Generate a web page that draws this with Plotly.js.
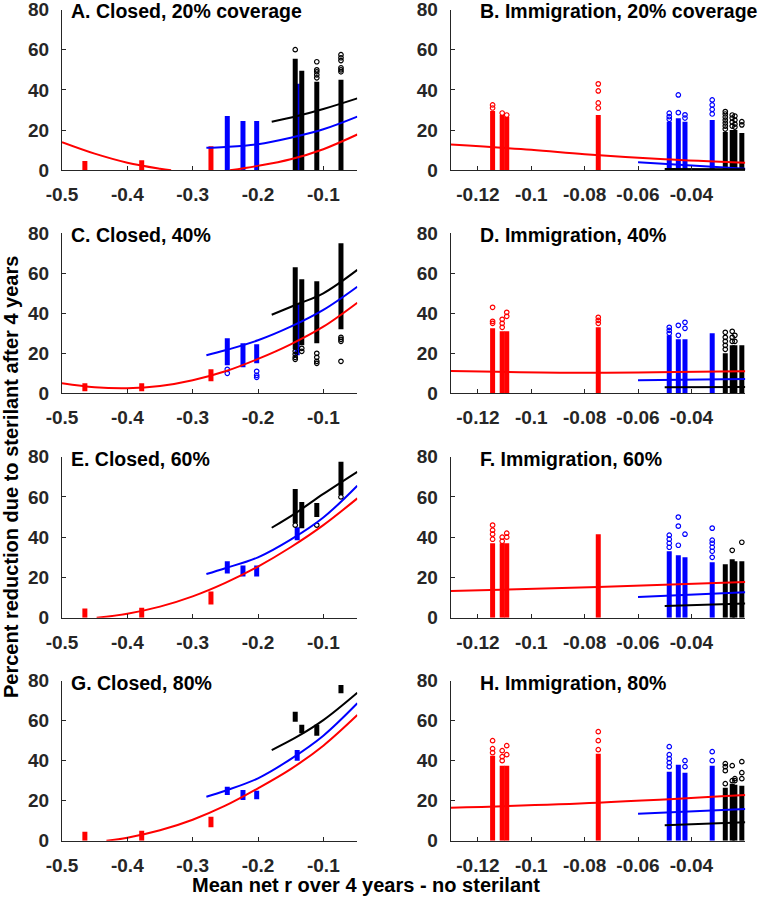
<!DOCTYPE html>
<html><head><meta charset="utf-8">
<script src="https://cdn.plot.ly/plotly-3.0.1.min.js"></script>
<style>html,body{margin:0;padding:0;background:#fff}</style>
</head><body><div id="chart" style="width:764px;height:897px"></div>
<script>
// ---------- tick labels / ranges ----------
const closedTickVals = [-0.5, -0.4, -0.3, -0.2, -0.1];
const closedTickText = ['-0.5', '-0.4', '-0.3', '-0.2', '-0.1'];
const immTickVals = [-0.12, -0.1, -0.08, -0.06, -0.04];
const immTickText = ['-0.12', '-0.1', '-0.08', '-0.06', '-0.04'];
const yTickVals = [0, 20, 40, 60, 80];
const yTickText = ['0', '20', '40', '60', '80'];
const closedRange = [-0.5, -0.048];
const immRange = [-0.1302, -0.0198];
const yRange = [0, 80];

const panelTitles = ['A. Closed, 20% coverage', 'B. Immigration, 20% coverage',
  'C. Closed, 40%', 'D. Immigration, 40%', 'E. Closed, 60%', 'F. Immigration, 60%',
  'G. Closed, 80%', 'H. Immigration, 80%'];
const yTitle = 'Percent reduction due to sterilant after 4 years';
const xTitle = 'Mean net r over 4 years - no sterilant';

// ---------- column x positions (mean net r) ----------
const closedRedX = [-0.465, -0.378, -0.272];
const closedBlueX = [-0.247, -0.223, -0.202, -0.140];
const closedBlackX = [-0.143, -0.133, -0.110, -0.073];
const immRedX = [-0.1145, -0.1109, -0.1092, -0.0749];
const immBlueX = [-0.0483, -0.0449, -0.0424, -0.0322];
const immBlackX = [-0.0273, -0.0247, -0.0237, -0.0211];
const immLo = [0, 0, 0, 0];

// ---------- Panel A ----------
const aRedLo = [0, 0, 0], aRedHi = [4.6, 5, 12], aRedOut = [[], [], []];
const aBlueLo = [0, 0, 0, 0], aBlueHi = [27, 24.5, 24.5, 43], aBlueOut = [[], [], [], []];
const aBlackLo = [0, 0, 0, 0], aBlackHi = [55.5, 49.5, 44, 45];
const aBlackOut = [[60], [], [46, 47.5, 49, 50, 54], [49, 50, 51, 54.6, 56, 57.5]];
const aRedFitX = [-0.5, -0.45, -0.4, -0.35, -0.333, null, -0.243, -0.2, -0.15, -0.1, -0.048];
const aRedFitY = [14, 8.3, 3.8, 0.8, 0, null, 0, 2.2, 5.5, 10.5, 17.8];
const aBlueFitX = [-0.279, -0.25, -0.2, -0.15, -0.1, -0.048];
const aBlueFitY = [11.2, 11.6, 13, 16.2, 20.4, 26.7];
const aBlackFitX = [-0.179, -0.14, -0.1, -0.048];
const aBlackFitY = [24.2, 27, 30.5, 35.8];

// ---------- Panel C ----------
const cRedLo = [1, 1, 6], cRedHi = [5, 5, 12], cRedOut = [[], [], []];
const cBlueLo = [14, 13, 15, 19], cBlueHi = [27.5, 25, 24.5, 45], cBlueOut = [[12, 10], [], [11, 9, 8], []];
const cBlackLo = [22, 24, 25, 32], cBlackHi = [63, 57, 56, 75];
const cBlackOut = [[17, 18, 19.5, 21], [21, 22.5], [15, 16, 18, 20], [16, 26, 27, 28]];
const cRedFitX = [-0.5, -0.45, -0.4, -0.35, -0.3, -0.25, -0.2, -0.15, -0.1, -0.048];
const cRedFitY = [5, 3, 2.5, 3.6, 6.5, 11, 17.2, 24.5, 33.3, 45.3];
const cBlueFitX = [-0.279, -0.25, -0.2, -0.15, -0.1, -0.048];
const cBlueFitY = [19, 21.5, 26.5, 33.3, 41.7, 53.3];
const cBlackFitX = [-0.179, -0.14, -0.1, -0.048];
const cBlackFitY = [39.3, 44.5, 50, 61.7];

// ---------- Panel E ----------
const eRedLo = [0, 0, 6.5], eRedHi = [4.6, 5, 13], eRedOut = [[], [], []];
const eBlueLo = [22, 20.5, 20.5, 38.5], eBlueHi = [28, 26, 26, 45], eBlueOut = [[], [], [], []];
const eBlackLo = [47, 44.5, 50, 61], eBlackHi = [64, 57.5, 57, 77.5];
const eBlackOut = [[46], [], [46], [60]];
const eRedFitX = [-0.447, -0.4, -0.35, -0.3, -0.25, -0.2, -0.15, -0.1, -0.048];
const eRedFitY = [0, 2, 5.5, 10.6, 17.3, 25.4, 35, 46, 59.3];
const eBlueFitX = [-0.279, -0.25, -0.2, -0.15, -0.1, -0.048];
const eBlueFitY = [21.7, 24.6, 30, 38.8, 49.8, 65.6];
const eBlackFitX = [-0.179, -0.14, -0.1, -0.048];
const eBlackFitY = [44.7, 52.5, 61.5, 72.5];

// ---------- Panel G ----------
const gRedLo = [0, 0, 6.7], gRedHi = [4.5, 5, 12], gRedOut = [[], [], []];
const gBlueLo = [22.8, 20.3, 20.7, 40], gBlueHi = [27, 25.3, 25, 45.3], gBlueOut = [[], [], [], []];
const gBlackLo = [59.5, 53.7, 52.5, 73.7], gBlackHi = [64.5, 58, 58, 77.8];
const gBlackOut = [[], [], [], []];
const gRedFitX = [-0.432, -0.4, -0.35, -0.3, -0.25, -0.2, -0.15, -0.1, -0.048];
const gRedFitY = [0, 1.5, 5.2, 10.5, 17.5, 26.2, 35.8, 47.5, 62.8];
const gBlueFitX = [-0.279, -0.25, -0.2, -0.15, -0.1, -0.048];
const gBlueFitY = [22, 25, 31.2, 40.8, 52.5, 68.7];
const gBlackFitX = [-0.179, -0.14, -0.1, -0.048];
const gBlackFitY = [45.3, 52, 60.3, 74];

// ---------- Panel B ----------
const bRedHi = [29.5, 27.5, 26.5, 27.5];
const bRedOut = [[31, 32.5], [28.5], [27.5], [31, 33.5, 39.5, 43]];
const bBlueHi = [24.2, 25.9, 24.2, 25];
const bBlueOut = [[25.4, 26.7, 28.4], [28.7, 37.5], [26, 27.6], [28, 30.3, 32.5, 35]];
const bBlackHi = [19, 20, 20, 18.5];
const bBlackOut = [[20.5, 22, 23.5, 25, 26.5, 28, 29.2], [22, 24, 26, 27.5], [21.5, 23, 25, 27], [22.6, 24.2]];
const bRedFitX = [-0.1302, -0.1, -0.08, -0.05, -0.0198];
const bRedFitY = [12.8, 10.2, 8, 5.5, 3.8];
const bBlueFitX = [-0.06, -0.0198], bBlueFitY = [4, 0.8];
const bBlackFitX = [-0.05, -0.0198], bBlackFitY = [0.6, 0.5];

// ---------- Panel D ----------
const dRedHi = [32.5, 31, 31, 33];
const dRedOut = [[35, 36, 43], [33, 35, 37], [38.5, 40.5], [35, 36.5, 38]];
const dBlueHi = [29, 27, 27, 30];
const dBlueOut = [[30, 31.5, 33], [29, 34], [32.5, 35.5], []];
const dBlackHi = [20, 24, 24, 24];
const dBlackOut = [[22, 24, 26, 28, 30.5], [26, 28, 31], [26, 29], []];
const dRedFitX = [-0.1302, -0.08, -0.0198], dRedFitY = [11.2, 10.3, 11];
const dBlueFitX = [-0.06, -0.0198], dBlueFitY = [6.5, 7.2];
const dBlackFitX = [-0.05, -0.0198], dBlackFitY = [3, 3.2];

// ---------- Panel F ----------
const fRedHi = [37, 37, 37, 41.5];
const fRedOut = [[39, 41.5, 43.5, 46], [38, 40], [40, 42], []];
const fBlueHi = [33, 31, 30, 27.5];
const fBlueOut = [[35, 37, 39, 41], [36, 45.5, 50], [41.5], [30, 33, 35, 37, 38.5, 44.5]];
const fBlackHi = [26.5, 29, 28, 28];
const fBlackOut = [[], [33.5], [], [37.5]];
const fRedFitX = [-0.1302, -0.075, -0.0198], fRedFitY = [13.3, 15.2, 17.8];
const fBlueFitX = [-0.06, -0.0198], fBlueFitY = [10.3, 12.6];
const fBlackFitX = [-0.05, -0.0198], fBlackFitY = [5.8, 7];

// ---------- Panel H ----------
const hRedHi = [42.5, 37.5, 37.5, 43.5];
const hRedOut = [[44, 46, 50], [40, 42, 45], [43, 47.5], [45.5, 50, 54.5]];
const hBlueHi = [34.5, 38, 34, 37.5];
const hBlueOut = [[37, 39, 41, 43, 47], [], [37, 40], [40, 44.5]];
const hBlackHi = [26.5, 28.5, 28, 27.5];
const hBlackOut = [[28.5, 35, 37, 38.5], [30, 37.5], [30, 31], [31, 34, 39.5]];
const hRedFitX = [-0.1302, -0.075, -0.0198], hRedFitY = [16.5, 19, 22.8];
const hBlueFitX = [-0.06, -0.0198], hBlueFitY = [13.5, 15.8];
const hBlackFitX = [-0.05, -0.0198], hBlackFitY = [7.7, 9.2];

// ---------- styles ----------
const RED = '#ff0000', BLUE = '#0000ff', BLACK = '#000000';
const FONT = 'Liberation Sans, Arial, Helvetica, sans-serif';
const W = 764, H = 897;
const colX = { left: [62, 357.3], right: [450.7, 745.3] };
const rowY = [[9.5, 170.3], [233.3, 393.3], [456.7, 617.7], [680.7, 840.7]];

function columns(k, xs, lo, hi, out, color) {
  const lx = [], ly = [], ox = [], oy = [];
  xs.forEach((x, i) => {
    lx.push(x, x, null); ly.push(lo[i], hi[i], null);
    (out[i] || []).forEach(v => { ox.push(x); oy.push(v); });
  });
  const ax = k === 1 ? '' : String(k);
  return [
    { type: 'scatter', mode: 'lines', x: lx, y: ly, xaxis: 'x' + ax, yaxis: 'y' + ax,
      line: { color: color, width: 5 }, hoverinfo: 'skip', showlegend: false },
    { type: 'scatter', mode: 'markers', x: ox, y: oy, xaxis: 'x' + ax, yaxis: 'y' + ax,
      marker: { symbol: 'circle-open', size: 4.5, color: color, line: { width: 1.2, color: color } },
      cliponaxis: false, hoverinfo: 'skip', showlegend: false }
  ];
}
function fit(k, xs, ys, color) {
  const ax = k === 1 ? '' : String(k);
  return { type: 'scatter', mode: 'lines', x: xs, y: ys, xaxis: 'x' + ax, yaxis: 'y' + ax,
    line: { color: color, width: 2, shape: 'spline', smoothing: 1 }, connectgaps: false,
    hoverinfo: 'skip', showlegend: false };
}

const panels = [
  { k: 1, red: [closedRedX, aRedLo, aRedHi, aRedOut], blue: [closedBlueX, aBlueLo, aBlueHi, aBlueOut], black: [closedBlackX, aBlackLo, aBlackHi, aBlackOut],
    fits: [[aRedFitX, aRedFitY], [aBlueFitX, aBlueFitY], [aBlackFitX, aBlackFitY]] },
  { k: 2, red: [immRedX, immLo, bRedHi, bRedOut], blue: [immBlueX, immLo, bBlueHi, bBlueOut], black: [immBlackX, immLo, bBlackHi, bBlackOut],
    fits: [[bRedFitX, bRedFitY], [bBlueFitX, bBlueFitY], [bBlackFitX, bBlackFitY]] },
  { k: 3, red: [closedRedX, cRedLo, cRedHi, cRedOut], blue: [closedBlueX, cBlueLo, cBlueHi, cBlueOut], black: [closedBlackX, cBlackLo, cBlackHi, cBlackOut],
    fits: [[cRedFitX, cRedFitY], [cBlueFitX, cBlueFitY], [cBlackFitX, cBlackFitY]] },
  { k: 4, red: [immRedX, immLo, dRedHi, dRedOut], blue: [immBlueX, immLo, dBlueHi, dBlueOut], black: [immBlackX, immLo, dBlackHi, dBlackOut],
    fits: [[dRedFitX, dRedFitY], [dBlueFitX, dBlueFitY], [dBlackFitX, dBlackFitY]] },
  { k: 5, red: [closedRedX, eRedLo, eRedHi, eRedOut], blue: [closedBlueX, eBlueLo, eBlueHi, eBlueOut], black: [closedBlackX, eBlackLo, eBlackHi, eBlackOut],
    fits: [[eRedFitX, eRedFitY], [eBlueFitX, eBlueFitY], [eBlackFitX, eBlackFitY]] },
  { k: 6, red: [immRedX, immLo, fRedHi, fRedOut], blue: [immBlueX, immLo, fBlueHi, fBlueOut], black: [immBlackX, immLo, fBlackHi, fBlackOut],
    fits: [[fRedFitX, fRedFitY], [fBlueFitX, fBlueFitY], [fBlackFitX, fBlackFitY]] },
  { k: 7, red: [closedRedX, gRedLo, gRedHi, gRedOut], blue: [closedBlueX, gBlueLo, gBlueHi, gBlueOut], black: [closedBlackX, gBlackLo, gBlackHi, gBlackOut],
    fits: [[gRedFitX, gRedFitY], [gBlueFitX, gBlueFitY], [gBlackFitX, gBlackFitY]] },
  { k: 8, red: [immRedX, immLo, hRedHi, hRedOut], blue: [immBlueX, immLo, hBlueHi, hBlueOut], black: [immBlackX, immLo, hBlackHi, hBlackOut],
    fits: [[hRedFitX, hRedFitY], [hBlueFitX, hBlueFitY], [hBlackFitX, hBlackFitY]] }
];

const data = [];
const layout = {
  width: W, height: H, margin: { l: 0, r: 0, t: 0, b: 0 },
  paper_bgcolor: '#ffffff', plot_bgcolor: '#ffffff', showlegend: false,
  font: { family: FONT }, annotations: []
};
const colors = [RED, BLUE, BLACK];

panels.forEach(p => {
  data.push(...columns(p.k, ...p.red, RED));
  data.push(...columns(p.k, ...p.blue, BLUE));
  data.push(...columns(p.k, ...p.black, BLACK));
});
panels.forEach(p => {
  p.fits.forEach((f, i) => data.push(fit(p.k, f[0], f[1], colors[i])));
});

panels.forEach(p => {
  const left = p.k % 2 === 1;
  const row = Math.floor((p.k - 1) / 2);
  const cx = left ? colX.left : colX.right;
  const ry = rowY[row];
  const sfx = p.k === 1 ? '' : String(p.k);
  const tickfont = { family: FONT, size: 19, color: '#262626', weight: 'bold' };
  layout['xaxis' + sfx] = {
    domain: [cx[0] / W, cx[1] / W], anchor: 'y' + sfx,
    range: left ? closedRange : immRange, tickmode: 'array',
    tickvals: left ? closedTickVals : immTickVals, ticktext: left ? closedTickText : immTickText,
    showline: true, linecolor: '#262626', linewidth: 1, ticks: 'inside', ticklen: 4, tickcolor: '#262626',
    showgrid: false, zeroline: false, tickfont: tickfont, ticklabelstandoff: 7,
    ticklabeloverflow: 'allow', fixedrange: true
  };
  layout['yaxis' + sfx] = {
    domain: [1 - ry[1] / H, 1 - ry[0] / H], anchor: 'x' + sfx, range: yRange,
    tickmode: 'array', tickvals: yTickVals, ticktext: yTickText,
    showline: true, linecolor: '#262626', linewidth: 1, ticks: 'inside', ticklen: 4, tickcolor: '#262626',
    showgrid: false, zeroline: false, tickfont: tickfont, ticklabelstandoff: 8,
    ticklabeloverflow: 'allow', fixedrange: true
  };
  layout.annotations.push({
    text: panelTitles[p.k - 1], xref: 'paper', yref: 'paper',
    x: (left ? 69 : 478) / W, y: 1 - (ry[0] + 2) / H, xanchor: 'left', yanchor: 'middle',
    showarrow: false, font: { family: FONT, size: 19.5, color: '#000000', weight: 'bold' }
  });
});

layout.annotations.push({
  text: yTitle, xref: 'paper', yref: 'paper', x: 11 / W, y: 1 - 477 / H,
  xanchor: 'center', yanchor: 'middle', textangle: -90, showarrow: false,
  font: { family: FONT, size: 20, color: '#000000', weight: 'bold' }
});
layout.annotations.push({
  text: xTitle, xref: 'paper', yref: 'paper', x: 366 / W, y: 1 - 885 / H,
  xanchor: 'center', yanchor: 'middle', showarrow: false,
  font: { family: FONT, size: 20, color: '#000000', weight: 'bold' }
});

Plotly.newPlot('chart', data, layout, { displayModeBar: false, staticPlot: true });
</script></body></html>
